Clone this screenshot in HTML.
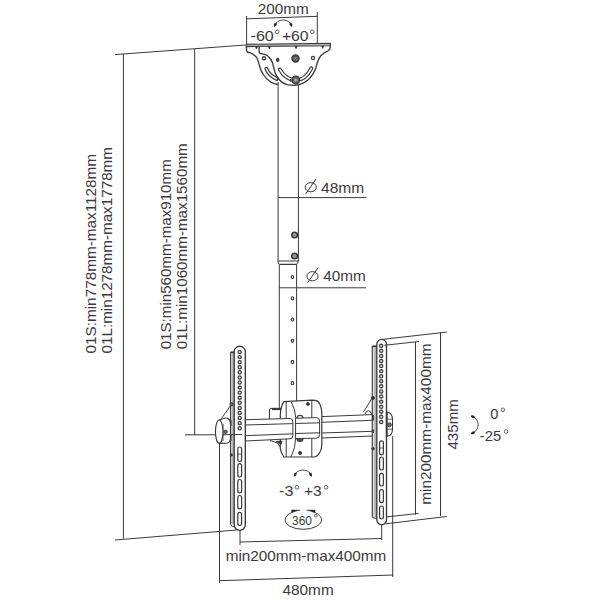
<!DOCTYPE html>
<html><head><meta charset="utf-8">
<style>
html,body{margin:0;padding:0;background:#fff;width:600px;height:600px;overflow:hidden}
svg{display:block}
text{font-family:"Liberation Sans",sans-serif;font-size:15.6px;fill:#3a3a3a}
</style></head>
<body>
<svg width="600" height="600" viewBox="0 0 600 600">
<g fill="none" stroke="#3a3a3a" stroke-width="1">
<!-- ===== top dimension 200mm ===== -->
<path d="M246.6 18.8 L317.7 16.3"/>
<path d="M246.6 16 V45 M317.3 12 V44"/>
<!-- rotation arc -60/+60 -->
<path d="M274.50 26.50 A8.97 8.97 0 0 1 291.75 26.50" stroke-width="0.9"/>
<path d="M273.85 26.31 L274.05 25.70 L273.91 24.93 L274.00 24.22 L274.32 23.62 L274.85 23.14 L275.55 22.84 L276.40 22.74 L276.97 22.45 L276.97 22.45 L276.68 23.00 L276.75 23.82 L276.73 24.47 L276.60 25.00 L276.33 25.44 L275.91 25.81 L275.32 26.16 L275.15 26.69 Z M292.40 26.31 L292.20 25.70 L292.34 24.93 L292.25 24.22 L291.93 23.62 L291.40 23.14 L290.70 22.84 L289.85 22.74 L289.28 22.45 L289.28 22.45 L289.57 23.00 L289.50 23.82 L289.52 24.47 L289.65 25.00 L289.92 25.44 L290.34 25.81 L290.93 26.16 L291.10 26.69 Z" fill="#2a2a2a" stroke="none"/>

<!-- ===== left dimensions ===== -->
<path d="M115 54.6 L245.5 45"/>
<path d="M123.4 54 V538.5"/>
<path d="M194.7 49 V435"/>
<path d="M115 540 L236.7 530"/>

<!-- ===== top bracket ===== -->
<g stroke-width="1.3">
<path d="M246.5 45.5 V50.5 Q247 52.5 250 52.6 Q254.5 54.5 257 58 Q258.8 62 259.5 66 Q260.8 71 263 74 Q266 79 271 82.3 Q274 84 278.2 84.5"/>
<path d="M259.1 47 V52.2 Q259.5 53.6 261.2 53.6 Q265 54 267.5 55.8 Q271 58.5 272.6 63 Q273.8 68 275 72.5 Q276.5 77 280 80.5 Q283 83.5 287 84.6 Q291 85.5 295.4 85.4 Q303 84.5 308.5 79.5 Q314 74 316 67.5 Q317.5 60 321 55.5 Q324 52.5 328 50.8 Q330.3 49.5 330.3 47.5 V43.4"/>
</g>
<path d="M246.3 44.3 L330.3 43.2 L330.3 45.8 L246.3 46.6 Z" fill="#b0b0b0" stroke-width="1.1"/>
<path d="M255.5 46.5 l1 2.5 l1 -2.5 M268.4 46.4 l1 2.5 l1 -2.5 M295 46 l1 2.5 l1 -2.5 M321.7 45.8 l1 2.5 l1 -2.5" fill="#3a3a3a"/>
<!-- back slot -->
<path d="M266.3 68.8 Q269 75.5 276.8 78.9" stroke-width="3.9" stroke-linecap="round"/>
<path d="M266.3 68.8 Q269 75.5 276.8 78.9" stroke-width="1.5" stroke="#fff" stroke-linecap="round"/>
<path d="M277.7 77 V80" stroke-width="1.6"/>
<!-- front slot -->
<path d="M279.8 69.5 Q286 80 295.8 80.2 Q305.5 80 311.3 68.3" stroke-width="3.9" stroke-linecap="round"/>
<path d="M279.8 69.5 Q286 80 295.8 80.2 Q305.5 80 311.3 68.3" stroke-width="1.6" stroke="#fff" stroke-linecap="round"/>
<circle cx="264" cy="58.2" r="1.6" stroke-width="1.2"/>
<ellipse cx="277.7" cy="59.9" rx="1.3" ry="1.7" fill="#333"/>
<circle cx="313" cy="58" r="1.6" stroke-width="1.2"/>
<circle cx="295.5" cy="58.5" r="3.4" fill="#555" stroke-width="1.6"/>
<path d="M294 57.5 l3 2 M296.5 57 l-2.5 3" stroke="#aaa" stroke-width="0.7"/>
<circle cx="295.8" cy="80" r="3.8" fill="#666" stroke-width="1.4"/>
<path d="M294 80 h3.6 M295.8 78.2 v3.6" stroke="#ccc" stroke-width="0.8"/>
<path d="M290.5 79 v2.5" stroke-width="1.5"/>

<!-- ===== upper pole ===== -->
<path d="M278.1 82 V261 M298.4 85 V261"/>
<path d="M277.9 261 H298.2 M279.3 264.3 H296.7" stroke-width="1.2"/>
<path d="M277.9 261 Q278 263.5 279.3 264.3 M298.2 261 Q298 263.5 296.7 264.3"/>
<circle cx="294.6" cy="235" r="2.8" fill="#999" stroke-width="1.6"/>
<circle cx="294.6" cy="256" r="2.8" fill="#999" stroke-width="1.6"/>
<!-- dim lines diameter -->
<ellipse cx="310.8" cy="187.2" rx="5.6" ry="4.6"/>
<path d="M305.6 194 L315.9 179.2"/>
<ellipse cx="312.5" cy="276.2" rx="5.6" ry="4.6"/>
<path d="M307.6 282.7 L318.1 267.6"/>
<path d="M278.4 197.6 H366.5"/>
<path d="M279.3 287.8 H366"/>
<!-- lower pole -->
<path d="M279.3 264.3 V408 M296.6 264.3 V401"/>
<g stroke-width="1.1">
<ellipse cx="292.5" cy="277.1" rx="1.2" ry="1.6"/>
<ellipse cx="292.5" cy="298.4" rx="1.2" ry="1.6"/>
<ellipse cx="292.5" cy="319.6" rx="1.2" ry="1.6"/>
<ellipse cx="292.5" cy="340.8" rx="1.2" ry="1.6"/>
<ellipse cx="292.5" cy="362" rx="1.2" ry="1.6"/>
<ellipse cx="292.5" cy="383.2" rx="1.2" ry="1.6"/>
</g>

<!-- ===== crossbar ===== -->
<path d="M321.8 416.6 L372.5 414.6 M321.8 422.3 L372.5 420.3 M321.8 433 L372.5 431.3 M321.8 438 L372.5 436"/>

<!-- ===== central body ===== -->
<path d="M283.9 401.7 L311.8 400.2 L315.5 400.4 Q318.5 401 320 404.5 Q321.8 409 321.8 413 V444.5 Q321.8 449.5 319.5 453 Q317.5 456.5 314.5 457 L283.9 457 Q281 453 280.3 448.6 V415 Q280.8 406 283.9 401.7 Z" fill="#fff" stroke-width="1.2"/>
<path d="M286.2 401.7 V457 M311.8 400 V457"/>
<path d="M291.2 401.7 Q295.6 410 295.6 417.3 V438.5 Q295.6 448 291 457"/>
<circle cx="307.9" cy="403.9" r="1.5" fill="#3a3a3a"/>
<circle cx="300.1" cy="453" r="1.5" fill="#3a3a3a"/>
<path d="M297 418.4 A3 3 0 0 1 303 418.4" stroke-width="1.2"/>
<path d="M297 438.5 A3 3 0 0 0 303 438.5" stroke-width="1.2" fill="#555"/>
<!-- crossbar front sections -->
<path d="M245.7 419.7 L290 418.5 Q292.9 418.5 292.9 422 V435 Q292.9 438.8 290 438.8 L245.7 441" fill="#fff"/>
<path d="M245.7 425 L292.9 423.6 M245.7 435.7 L292.9 433.8"/>
<path d="M295.6 418.3 L316.5 417.6 Q319.6 417.6 319.6 421 V434.5 Q319.6 438.2 316.5 438.2 L295.6 438.6 Z" fill="#fff"/>
<path d="M295.6 423.5 L319.6 422.8 M295.6 433.5 L319.6 432.8"/>
<path d="M269.5 419 V410 Q269.5 408.4 271 408.4 H281"/>
<path d="M272 409 H281" stroke-width="2.2"/>
<path d="M270 440.5 Q274 441.5 277.5 443 L280 446.5" stroke-width="1.2"/>
<path d="M276 441.5 L282 441 L281.5 444 Z" fill="#333" stroke-width="0.8"/>

<!-- ===== left arm ===== -->
<path d="M231.6 352.8 H234.2 V524 H231.6 Z" fill="#d0d0d0" stroke="none"/>
<path d="M233 353 V524" stroke="#999" stroke-width="0.9"/>
<path d="M230.6 524 V352.3 H234.4" stroke-width="1.2" stroke="#444"/>
<path d="M230.6 524 Q230.8 526.5 234.5 527" stroke-width="1"/>
<path d="M231 352.3 H234" stroke-width="1.6"/>
<path d="M234.2 524.85 V351.8 A5.55 5.55 0 0 1 245.3 351.8 V524.85 A5.55 5.55 0 0 1 234.2 524.85 Z" fill="#fff" stroke-width="1.35"/>
<g stroke-width="1.25" stroke="#3a3a3a" fill="#eee"><circle cx="239.7" cy="352.0" r="1.6"/><circle cx="239.7" cy="357.1" r="1.6"/><circle cx="239.7" cy="362.2" r="1.6"/><circle cx="239.7" cy="367.2" r="1.6"/><circle cx="239.7" cy="372.3" r="1.6"/><circle cx="239.7" cy="377.4" r="1.6"/><circle cx="239.7" cy="382.5" r="1.6"/><circle cx="239.7" cy="387.6" r="1.6"/><circle cx="239.7" cy="392.6" r="1.6"/><circle cx="239.7" cy="397.7" r="1.6"/><circle cx="239.7" cy="402.8" r="1.6"/><circle cx="239.7" cy="407.9" r="1.6"/><circle cx="239.7" cy="413.0" r="1.6"/><circle cx="239.7" cy="418.0" r="1.6"/><circle cx="239.7" cy="423.1" r="1.6"/><circle cx="239.7" cy="428.2" r="1.6"/></g>
<rect x="237.8" y="447" width="3.8" height="14.5" rx="1.9" stroke-width="1.2"/>
<rect x="237.8" y="463.7" width="3.8" height="13.3" rx="1.9" stroke-width="1.2"/>
<rect x="237.8" y="479.5" width="3.8" height="13.3" rx="1.9" stroke-width="1.2"/>
<rect x="237.8" y="495.5" width="3.8" height="13.3" rx="1.9" stroke-width="1.2"/>
<rect x="237.8" y="512.3" width="3.8" height="13.2" rx="1.9" stroke-width="1.2"/>
<path d="M237.8 454 H241.6" stroke-width="0.8"/>
<path d="M231.5 404.2 L221.3 418.8"/>
<circle cx="231.5" cy="404.2" r="1.5" fill="#777" stroke-width="1.1"/>
<circle cx="231.3" cy="455" r="1.1" fill="#333"/>
<path d="M230.6 420 V426 M230.6 434 V441" stroke-width="1.8"/>
<!-- knob -->
<path d="M219.2 420 L223 418.8 Q226 417.3 228 418.5 Q230.5 420 230.5 424 V438 Q230.5 442.5 227 443.2 L219.2 443.4" fill="#fff" stroke-width="1.1"/>
<path d="M223 424 V441" stroke-width="0.8"/>
<circle cx="225.5" cy="431.8" r="1.7" fill="#666" stroke="#444"/>
<ellipse cx="219.2" cy="431.7" rx="3.75" ry="11.7" fill="#fff" stroke-width="1.15"/>
<path d="M219.5 443.4 V582.7"/>
<path d="M185 434.8 H215.5 M223 434.7 L242 434.5"/>

<!-- ===== right arm ===== -->
<path d="M373.2 347 H376.8 V517.5 H373.2 Z" fill="#d4d4d4" stroke="none"/>
<path d="M375.2 347 V517.5" stroke="#999" stroke-width="0.9"/>
<path d="M372.3 517 V346.3 H376.8 M372.3 516.5 Q372.6 518.3 376.8 518.3" stroke-width="1.2" stroke="#444"/>
<path d="M372.5 346.3 H376" stroke-width="1.6"/>
<path d="M376.8 519.75 V344.3 A4.85 4.85 0 0 1 386.5 344.3 V519.75 A4.85 4.85 0 0 1 376.8 519.75 Z" fill="#fff" stroke-width="1.35"/>
<g stroke-width="1.25" stroke="#3a3a3a" fill="#eee"><circle cx="381.2" cy="345.7" r="1.6"/><circle cx="381.2" cy="350.8" r="1.6"/><circle cx="381.2" cy="355.9" r="1.6"/><circle cx="381.2" cy="360.9" r="1.6"/><circle cx="381.2" cy="366.0" r="1.6"/><circle cx="381.2" cy="371.1" r="1.6"/><circle cx="381.2" cy="376.2" r="1.6"/><circle cx="381.2" cy="381.3" r="1.6"/><circle cx="381.2" cy="386.3" r="1.6"/><circle cx="381.2" cy="391.4" r="1.6"/><circle cx="381.2" cy="396.5" r="1.6"/><circle cx="381.2" cy="401.6" r="1.6"/><circle cx="381.2" cy="406.7" r="1.6"/><circle cx="381.2" cy="411.7" r="1.6"/><circle cx="381.2" cy="416.8" r="1.6"/><circle cx="381.2" cy="421.9" r="1.6"/></g>
<rect x="379.6" y="440.8" width="3.8" height="14" rx="1.9" stroke-width="1.2"/>
<path d="M379.6 448 H383.4" stroke-width="0.8"/>
<rect x="379.6" y="457" width="3.8" height="13" rx="1.9" stroke-width="1.2"/>
<rect x="379.6" y="473.4" width="3.8" height="12.6" rx="1.9" stroke-width="1.2"/>
<rect x="379.6" y="489.7" width="3.8" height="12.9" rx="1.9" stroke-width="1.2"/>
<rect x="379.6" y="506" width="3.8" height="13" rx="1.9" stroke-width="1.2"/>
<path d="M372.5 397.5 L363.5 411.8 M365.2 414.2 Q365.5 410.8 368.2 410.8 Q371 410.8 371.5 414"/>
<circle cx="372.9" cy="397.9" r="1.5" fill="#333"/>
<circle cx="373" cy="448.7" r="1.2" fill="#333"/>
<path d="M372.9 415 V420.5 M372.9 429.5 V433" stroke-width="2"/>
<path d="M386.7 412 Q392.5 412.5 392.5 420 V429 Q392.5 436.2 386.7 436.2 Z" fill="#fff" stroke-width="1.1"/>
<path d="M386.7 412 V436.2" stroke-width="1.8"/>
<path d="M387 419.2 H392 M387 429.2 H392" stroke-width="0.8"/>
<circle cx="389.4" cy="424.8" r="2" fill="#666" stroke="#444"/>
<path d="M392.7 436 V577"/>

<!-- ===== right dims ===== -->
<path d="M382.3 339.4 L446.7 332.1"/>
<path d="M384.3 345.3 L419 341.5"/>
<path d="M415.5 342 V514.6"/>
<path d="M440.5 332.5 V516"/>
<path d="M386.8 516.9 L418.7 513.4"/>
<path d="M385.8 523.8 L446.7 516.5"/>
<path d="M471.00 416.10 A8.86 8.86 0 0 1 471.00 433.50" stroke-width="0.9"/>
<path d="M471.13 415.44 L471.76 415.58 L472.51 415.37 L473.22 415.40 L473.86 415.67 L474.38 416.15 L474.74 416.82 L474.91 417.67 L475.25 418.20 L475.25 418.20 L474.67 417.97 L473.87 418.11 L473.22 418.14 L472.68 418.06 L472.22 417.83 L471.81 417.44 L471.41 416.89 L470.87 416.76 Z M471.13 434.16 L471.76 434.02 L472.51 434.23 L473.22 434.20 L473.86 433.93 L474.38 433.45 L474.74 432.78 L474.91 431.93 L475.25 431.40 L475.25 431.40 L474.67 431.63 L473.87 431.49 L473.22 431.46 L472.68 431.54 L472.22 431.77 L471.81 432.16 L471.41 432.71 L470.87 432.84 Z" fill="#2a2a2a" stroke="none"/>

<!-- ===== bottom dims ===== -->
<path d="M240 530 V545 M381.7 525 V540"/>
<path d="M240 542 L381.7 538.5"/>
<path d="M220 580.7 L393.3 575"/>
<!-- -3/+3 arc -->
<path d="M294.30 476.30 A9.02 9.02 0 0 1 311.50 476.30" stroke-width="0.9"/>
<path d="M293.66 476.10 L293.87 475.49 L293.75 474.72 L293.86 474.01 L294.20 473.41 L294.74 472.95 L295.44 472.67 L296.30 472.59 L296.87 472.31 L296.87 472.31 L296.57 472.86 L296.62 473.67 L296.58 474.33 L296.44 474.86 L296.16 475.29 L295.72 475.65 L295.13 475.98 L294.94 476.50 Z M312.14 476.10 L311.93 475.49 L312.05 474.72 L311.94 474.01 L311.60 473.41 L311.06 472.95 L310.36 472.67 L309.50 472.59 L308.93 472.31 L308.93 472.31 L309.23 472.86 L309.18 473.67 L309.22 474.33 L309.36 474.86 L309.64 475.29 L310.08 475.65 L310.67 475.98 L310.86 476.50 Z" fill="#2a2a2a" stroke="none"/>
<path d="M291.7 512.5 A18.2 9.5 0 1 0 314.9 512.5"/>
<path d="M291.5 509.9 L300.2 510.2 Q295.5 510.8 291.7 512.8 Z M306.4 510.2 L315.1 509.9 L314.9 512.8 Q311 510.8 306.4 510.2 Z" fill="#222" stroke="#222" stroke-width="0.4"/>
</g>
<!-- ===== text ===== -->
<text x="257.75" y="14.0" textLength="50.95" lengthAdjust="spacingAndGlyphs" style="font-size:14.6px">200mm</text>
<text x="250.6" y="41.0" textLength="23.2" lengthAdjust="spacingAndGlyphs" style="font-size:14.6px">-60</text>
<text x="281.93" y="41.0" textLength="26.6" lengthAdjust="spacingAndGlyphs" style="font-size:14.6px">+60</text>
<text x="321.0" y="192.6" textLength="43.18" lengthAdjust="spacingAndGlyphs" style="font-size:14.6px">48mm</text>
<text x="323.3" y="281.0" textLength="42.57" lengthAdjust="spacingAndGlyphs" style="font-size:14.6px">40mm</text>
<text x="279.09" y="496.4" textLength="14.4" lengthAdjust="spacingAndGlyphs" style="font-size:14.6px">-3</text>
<text x="303.94" y="496.4" textLength="17.64" lengthAdjust="spacingAndGlyphs" style="font-size:14.6px">+3</text>
<text x="291.99" y="524.9" textLength="20.02" lengthAdjust="spacingAndGlyphs" style="font-size:13.2px">360</text>
<text x="225.65" y="561.0" textLength="160.69" lengthAdjust="spacingAndGlyphs" style="font-size:14.6px">min200mm-max400mm</text>
<text x="282.5" y="594.5" textLength="51.21" lengthAdjust="spacingAndGlyphs" style="font-size:14.6px">480mm</text>
<text x="490.2" y="419.3" style="font-size:14.6px">0</text>
<text x="479.79" y="441.0" textLength="21.3" lengthAdjust="spacingAndGlyphs" style="font-size:14.6px">-25</text>
<text transform="translate(95.6 353.51) rotate(-90)" textLength="199.59" lengthAdjust="spacingAndGlyphs" style="font-size:15.2px">01S:min778mm-max1128mm</text>
<text transform="translate(111.8 353.5) rotate(-90)" textLength="206.47" lengthAdjust="spacingAndGlyphs" style="font-size:15.2px">01L:min1278mm-max1778mm</text>
<text transform="translate(170.6 349.3) rotate(-90)" textLength="190.04" lengthAdjust="spacingAndGlyphs" style="font-size:15.2px">01S:min560mm-max910mm</text>
<text transform="translate(187.0 349.3) rotate(-90)" textLength="206.07" lengthAdjust="spacingAndGlyphs" style="font-size:15.2px">01L:min1060mm-max1560mm</text>
<text transform="translate(431.1 504.81) rotate(-90)" textLength="161.33" lengthAdjust="spacingAndGlyphs" style="font-size:15.2px">min200mm-max400mm</text>
<text transform="translate(457.8 449.6) rotate(-90)" textLength="50.5" lengthAdjust="spacingAndGlyphs" style="font-size:15.2px">435mm</text>
<g fill="none" stroke="#555" stroke-width="0.9">
<circle cx="277.2" cy="31.8" r="1.8"/><circle cx="312.3" cy="31.8" r="1.8"/>
<circle cx="297" cy="487.3" r="1.8"/><circle cx="326" cy="487.3" r="1.8"/>
<circle cx="315.8" cy="515.7" r="1.3"/>
<circle cx="502.8" cy="409.8" r="1.8"/><circle cx="506.1" cy="431.5" r="1.8"/>
</g>
</svg>
</body></html>
